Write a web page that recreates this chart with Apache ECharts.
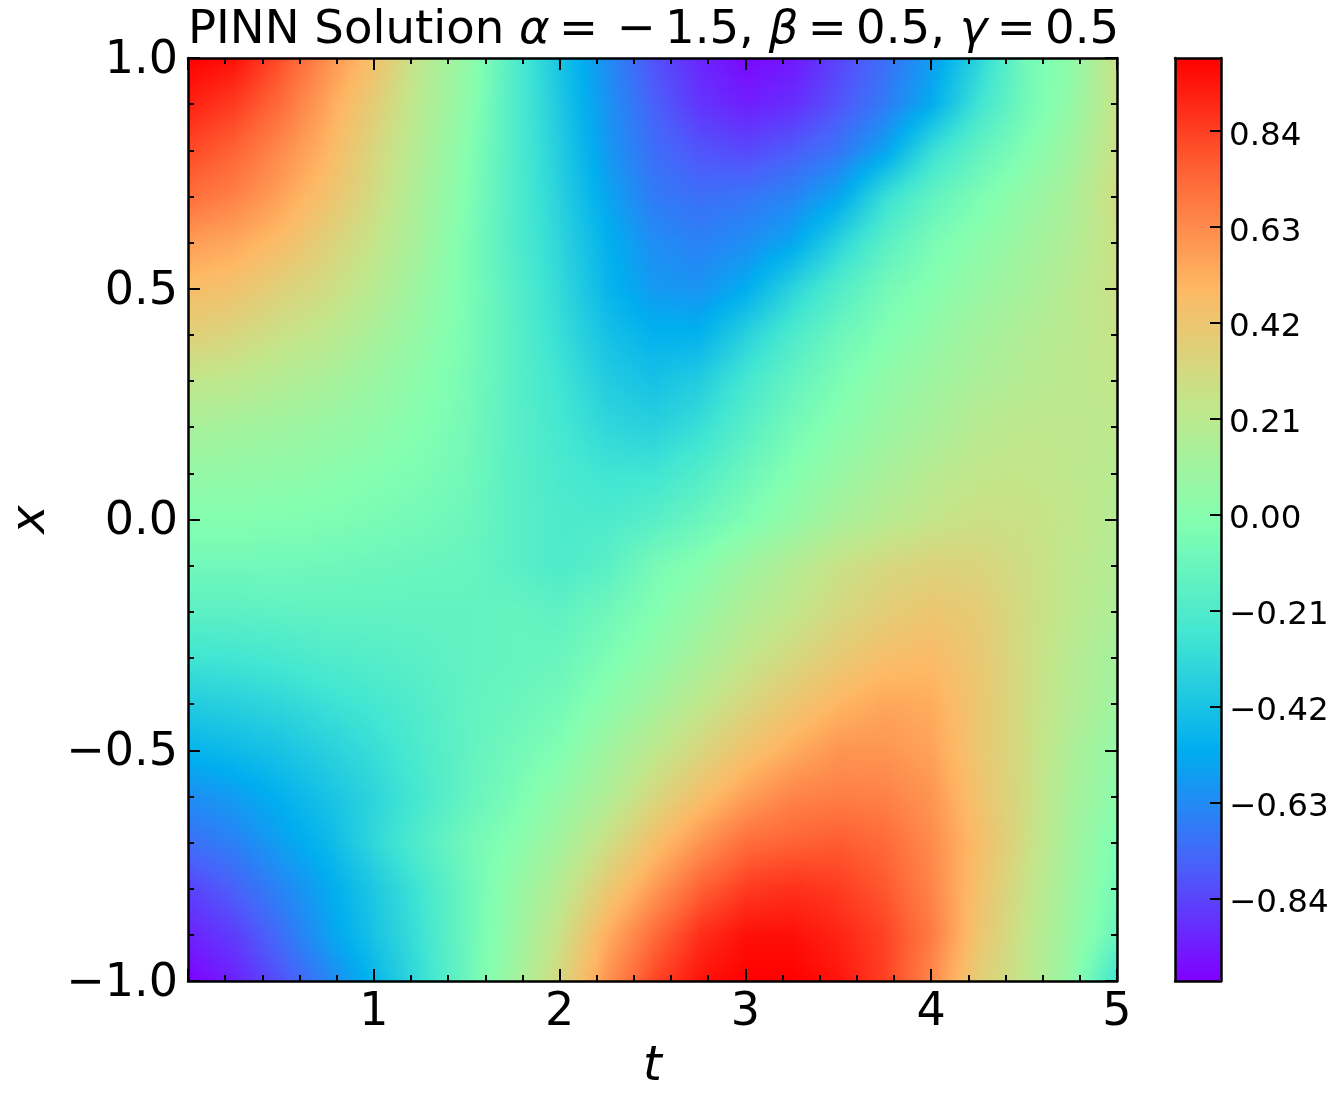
<!DOCTYPE html>
<html><head><meta charset="utf-8">
<style>html,body{margin:0;padding:0;background:#fff}#c{width:1338px;height:1099px}</style>
<script src="https://cdn.jsdelivr.net/npm/echarts@6/dist/echarts.min.js"></script>
</head><body><div id="c"></div>
<script>
const tValues = [0,.25,.5,.75,1,1.25,1.5,1.75,2,2.25,2.5,2.75,3,3.25,3.5,3.75,4,4.25,4.5,4.75,5];
const xValues = [1,.9,.8,.7,.6,.5,.4,.3,.2,.1,0,-.1,-.2,-.3,-.4,-.5,-.6,-.7,-.8,-.9,-1];
const u_p10 = [1.0,.96,.8,.62,.45,.22,.05,-.2,-.42,-.62,-.8,-.92,-1.0,-.96,-.84,-.72,-.57,-.35,-.08,.03,.28];
const u_p09 = [.92,.85,.72,.55,.38,.2,.03,-.2,-.4,-.6,-.76,-.88,-.94,-.9,-.8,-.68,-.52,-.27,-.08,.05,.27];
const u_p08 = [.82,.75,.63,.5,.33,.17,.0,-.2,-.38,-.58,-.72,-.8,-.83,-.78,-.7,-.55,-.3,-.14,-.02,.1,.28];
const u_p07 = [.72,.66,.56,.44,.3,.14,-.02,-.2,-.36,-.54,-.68,-.72,-.7,-.65,-.54,-.3,-.14,-.04,.05,.15,.3];
const u_p06 = [.58,.54,.47,.36,.25,.12,-.04,-.2,-.34,-.5,-.62,-.66,-.62,-.54,-.35,-.17,-.05,.02,.1,.17,.28];
const u_p05 = [.47,.44,.36,.3,.2,.08,-.04,-.18,-.32,-.48,-.58,-.6,-.52,-.35,-.2,-.07,.0,.07,.13,.2,.28];
const u_p04 = [.37,.33,.27,.22,.14,.05,-.05,-.17,-.3,-.43,-.5,-.5,-.36,-.22,-.1,-.02,.05,.12,.17,.21,.26];
const u_p03 = [.24,.22,.18,.14,.08,.02,-.06,-.17,-.27,-.38,-.43,-.38,-.25,-.13,-.04,.04,.1,.15,.19,.22,.24];
const u_p02 = [.14,.12,.1,.07,.04,-.01,-.07,-.17,-.25,-.33,-.36,-.3,-.18,-.07,.01,.08,.14,.2,.23,.23,.22];
const u_p01 = [.06,.05,.04,.02,-.01,-.04,-.08,-.17,-.23,-.27,-.27,-.2,-.1,-.01,.07,.14,.2,.24,.25,.23,.2];
const u_00 = [-.01,-.01,-.02,-.03,-.05,-.07,-.1,-.17,-.22,-.22,-.18,-.11,-.03,.05,.14,.2,.25,.28,.27,.24,.19];
const u_m01 = [-.08,-.08,-.08,-.09,-.1,-.11,-.12,-.17,-.22,-.17,-.06,.0,.1,.18,.27,.32,.35,.34,.29,.23,.18];
const u_m02 = [-.16,-.16,-.15,-.14,-.14,-.14,-.14,-.13,-.15,-.09,-.02,.07,.17,.24,.32,.38,.42,.39,.3,.22,.16];
const u_m03 = [-.27,-.26,-.24,-.21,-.19,-.17,-.14,-.13,-.11,-.04,.04,.14,.24,.32,.4,.46,.48,.41,.3,.2,.12];
const u_m04 = [-.38,-.36,-.33,-.29,-.25,-.2,-.14,-.11,-.07,.02,.12,.23,.33,.42,.5,.55,.53,.42,.3,.19,.1];
const u_m05 = [-.49,-.46,-.42,-.36,-.3,-.22,-.14,-.08,-.02,.1,.22,.33,.44,.53,.6,.6,.56,.42,.3,.16,.05];
const u_m06 = [-.62,-.57,-.5,-.42,-.34,-.24,-.13,-.05,.05,.17,.32,.45,.57,.65,.67,.66,.6,.44,.3,.14,.02];
const u_m07 = [-.72,-.66,-.56,-.47,-.33,-.2,-.08,.0,.12,.28,.45,.6,.72,.75,.77,.73,.63,.47,.3,.12,-.04];
const u_m08 = [-.85,-.76,-.65,-.53,-.4,-.26,-.1,.05,.2,.4,.58,.75,.85,.88,.85,.78,.65,.45,.27,.1,-.07];
const u_m09 = [-.93,-.86,-.72,-.56,-.42,-.28,-.1,.07,.27,.52,.72,.88,.96,.96,.91,.83,.68,.43,.25,.08,-.12];
const u_m10 = [-1.02,-.93,-.8,-.65,-.48,-.3,-.1,.1,.33,.6,.82,.95,1.0,1.0,.95,.84,.64,.38,.24,.05,-.28];
const uRows = [u_p10,u_p09,u_p08,u_p07,u_p06,u_p05,u_p04,u_p03,u_p02,u_p01,u_00,u_m01,u_m02,u_m03,u_m04,u_m05,u_m06,u_m07,u_m08,u_m09,u_m10];
const colorbarTicks = [-.84,-.63,-.42,-.21,0,.21,.42,.63,.84];
const palette = ['#8000ff','#4a60fa','#00aeef','#42e6d2','#84ffb0','#c2e68b','#feb865','#ff6436','#ff0000'];
const uMin = -1.02, uMax = 1.0;

const FONT = '"DejaVu Sans"';
const data = [];
xValues.forEach((x, j) => tValues.forEach((t, i) => data.push([t, x, uRows[j][i], i, j])));
const minus = s => String(s).replace('-', '\u2212');
const colorOf = v => echarts.color.lerp(Math.max(0, Math.min(1, (v - uMin) / (uMax - uMin))), palette);

function renderCell(params, api) {
  const i = api.value(3), j = api.value(4);
  if (i >= tValues.length - 1 || j >= xValues.length - 1) return null;
  const a = api.coord([tValues[i], xValues[j]]), b = api.coord([tValues[i + 1], xValues[j + 1]]);
  const h = b[1] - a[1], w = b[0] - a[0], n = Math.ceil(h / 3), children = [];
  const v00 = uRows[j][i], v10 = uRows[j][i + 1], v01 = uRows[j + 1][i], v11 = uRows[j + 1][i + 1];
  for (let s = 0; s < n; s++) {
    const f = (s + .5) / n, L = v00 + (v01 - v00) * f, R = v10 + (v11 - v10) * f;
    const stops = [0, .25, .5, .75, 1].map(o => ({offset: o, color: colorOf(L + (R - L) * o)}));
    children.push({type: 'rect',
      shape: {x: a[0], y: a[1] + h * s / n, width: w + 1, height: h / n + 1},
      style: {fill: new echarts.graphic.LinearGradient(0, 0, 1, 0, stops)}, silent: true});
  }
  return {type: 'group', children};
}

const line = {show: true, onZero: false, lineStyle: {color: '#000', width: 2.5}};
const noText = {show: false};
const mainTicks = {show: true, inside: true, length: 12, lineStyle: {color: '#000', width: 2}};
const mainMinor = {show: true, splitNumber: 5, length: 6, lineStyle: {color: '#000', width: 2}};
const tickFont = {fontFamily: FONT, fontSize: 46, color: '#000'};
const off = {show: false};
const xBase = {type: 'value', z: 10, gridIndex: 0, min: 0, max: 5, interval: 1, axisLine: line, axisTick: mainTicks, minorTick: mainMinor, splitLine: off, minorSplitLine: off};
const yBase = {type: 'value', z: 10, gridIndex: 0, min: -1, max: 1, interval: .5, axisLine: line, axisTick: mainTicks, minorTick: mainMinor, splitLine: off, minorSplitLine: off};
const cbX = {type: 'value', z: 10, gridIndex: 1, min: 0, max: 1, axisLine: line, axisTick: off, axisLabel: noText, splitLine: off};

const option = {
  animation: false,
  backgroundColor: '#fff',
  title: {
    left: 188, top: 7, padding: 0,
    text: '{n|PINN Solution }{i|\u03b1}{n|\u2009=\u2009\u2009\u2212\u20091.5, }{i|\u03b2}{n|\u2009=\u20090.5, }{i|\u03b3}{n|\u2009=\u20090.5}',
    textStyle: {fontWeight: 'normal', rich: {
      n: {fontFamily: FONT, fontSize: 46.6, color: '#000', fontWeight: 'normal'},
      i: {fontFamily: FONT, fontSize: 46.6, color: '#000', fontStyle: 'italic', fontWeight: 'normal'}
    }}
  },
  grid: [
    {left: 188, top: 58, width: 929, height: 923, outerBoundsMode: 'none'},
    {left: 1175, top: 58, width: 46, height: 923, outerBoundsMode: 'none'}
  ],
  xAxis: [
    Object.assign({}, xBase, {position: 'bottom', name: 't', nameLocation: 'middle', nameGap: 63,
      nameTextStyle: {fontFamily: FONT, fontSize: 48, fontStyle: 'italic', color: '#000'},
      axisLabel: Object.assign({margin: 9, formatter: v => v === 0 ? '' : String(v)}, tickFont)}),
    Object.assign({}, xBase, {position: 'top', axisLabel: noText}),
    Object.assign({}, cbX, {position: 'bottom'}),
    Object.assign({}, cbX, {position: 'top'})
  ],
  yAxis: [
    Object.assign({}, yBase, {position: 'left', name: 'x', nameLocation: 'middle', nameGap: 130,
      nameTextStyle: {fontFamily: FONT, fontSize: 48, fontStyle: 'italic', color: '#000'},
      axisLabel: Object.assign({margin: 10, verticalAlign: 'top', lineHeight: 6, formatter: v => minus(v.toFixed(1))}, tickFont)}),
    Object.assign({}, yBase, {position: 'right', axisLabel: noText}),
    {type: 'value', z: 10, gridIndex: 1, position: 'right', min: uMin, max: uMax, axisLine: line, splitLine: off,
      axisTick: {show: true, inside: true, length: 11, customValues: colorbarTicks, lineStyle: {color: '#000', width: 2}},
      axisLabel: {show: true, margin: 8, verticalAlign: 'top', lineHeight: 10, customValues: colorbarTicks, fontFamily: FONT, fontSize: 32.5, color: '#000',
        formatter: v => minus(v.toFixed(2))}},
    {type: 'value', z: 10, gridIndex: 1, position: 'left', min: uMin, max: uMax, axisLine: line, axisTick: off, axisLabel: noText, splitLine: off}
  ],
  visualMap: {
    type: 'continuous', seriesIndex: 0, dimension: 2, min: uMin, max: uMax, calculable: false, realtime: false,
    left: 1175, top: 58, itemWidth: 46, itemHeight: 923, padding: 0, text: ['', ''], textGap: 0, z: 1,
    inRange: {color: palette}, showLabel: false, hoverLink: false
  },
  series: [{
    type: 'custom', coordinateSystem: 'cartesian2d', xAxisIndex: 0, yAxisIndex: 0, clip: true,
    progressive: 0, silent: true, z: 1,
    encode: {x: 0, y: 1}, data, renderItem: renderCell
  }]
};
echarts.init(document.getElementById('c'), null, {renderer: 'canvas'}).setOption(option);
</script></body></html>
